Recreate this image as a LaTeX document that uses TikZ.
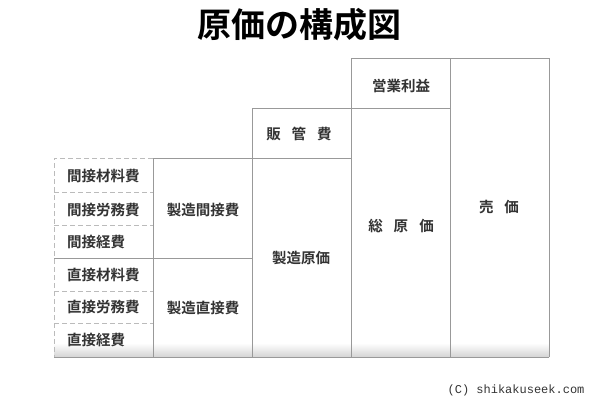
\documentclass[tikz,border=0pt]{standalone}
\usepackage{fontspec}
\newfontfamily\jp{Noto Sans CJK JP Bold}
\newfontfamily\jpt{Noto Sans CJK JP Bold}
\newfontfamily\cpr{Liberation Mono}
\definecolor{txt}{HTML}{333333}
\definecolor{ln}{HTML}{999999}
\definecolor{dl}{HTML}{BBBBBB}
\definecolor{sh}{HTML}{D4D4D4}
\begin{document}
\begin{tikzpicture}[x=1pt,y=-1pt,
  cell/.style={font=\jp\fontsize{14.5}{15}\selectfont, text=txt, inner sep=0pt},
  solidl/.style={draw=ln, line width=0.9pt},
  dashl/.style={draw=dl, line width=0.9pt, dash pattern=on 5pt off 3pt}]
\useasboundingbox (0,0) rectangle (600,400);
% bottom gradient
\shade[top color=white, bottom color=sh] (54,343) rectangle (549,357);
% dashed column 1
\draw[dashl] (153,158) -- (54,158) -- (54,357);
\draw[dashl] (54,192) -- (153,192);
\draw[dashl] (54,225) -- (153,225);
\draw[dashl] (54,291) -- (153,291);
\draw[dashl] (54,323) -- (153,323);
% solid lines
\draw[solidl] (54,258) -- (252,258);
\draw[solidl] (153,158) -- (153,357);
\draw[solidl] (153,158) -- (351,158);
\draw[solidl] (252,357) -- (252,108) -- (450,108);
\draw[solidl] (351,357) -- (351,58) -- (549,58) -- (549,357);
\draw[solidl] (450,58) -- (450,357);
\draw[solidl] (54,357) -- (549,357);
% title
\node[font=\jpt\fontsize{34}{36}\selectfont, text=black] (title) at (299,25) {原価の構成図};
% column 1
\node[cell, anchor=west] (a1) at (67,176) {間接材料費};
\node[cell, anchor=west] (a2) at (67,210) {間接労務費};
\node[cell, anchor=west] (a3) at (67,242) {間接経費};
\node[cell, anchor=west] (a4) at (67,275) {直接材料費};
\node[cell, anchor=west] (a5) at (67,307) {直接労務費};
\node[cell, anchor=west] (a6) at (67,340) {直接経費};
% column 2
\node[cell] (b1) at (203,210) {製造間接費};
\node[cell] (b2) at (203,308) {製造直接費};
% column 3
\node[cell] (c1) at (299,134) {販\hspace{11pt}管\hspace{11pt}費};
\node[cell] (c2) at (301,258) {製造原価};
% column 4
\node[cell] (d1) at (401,86) {営業利益};
\node[cell] (d2) at (401,226) {総\hspace{11pt}原\hspace{11pt}価};
% column 5
\node[cell] (e1) at (499,207) {売\hspace{11pt}価};
% copyright
\node[font=\cpr\fontsize{12}{12}\selectfont, text=txt, anchor=east] (cp) at (588,390) {(C) shikakuseek.com};
\end{tikzpicture}
\end{document}
